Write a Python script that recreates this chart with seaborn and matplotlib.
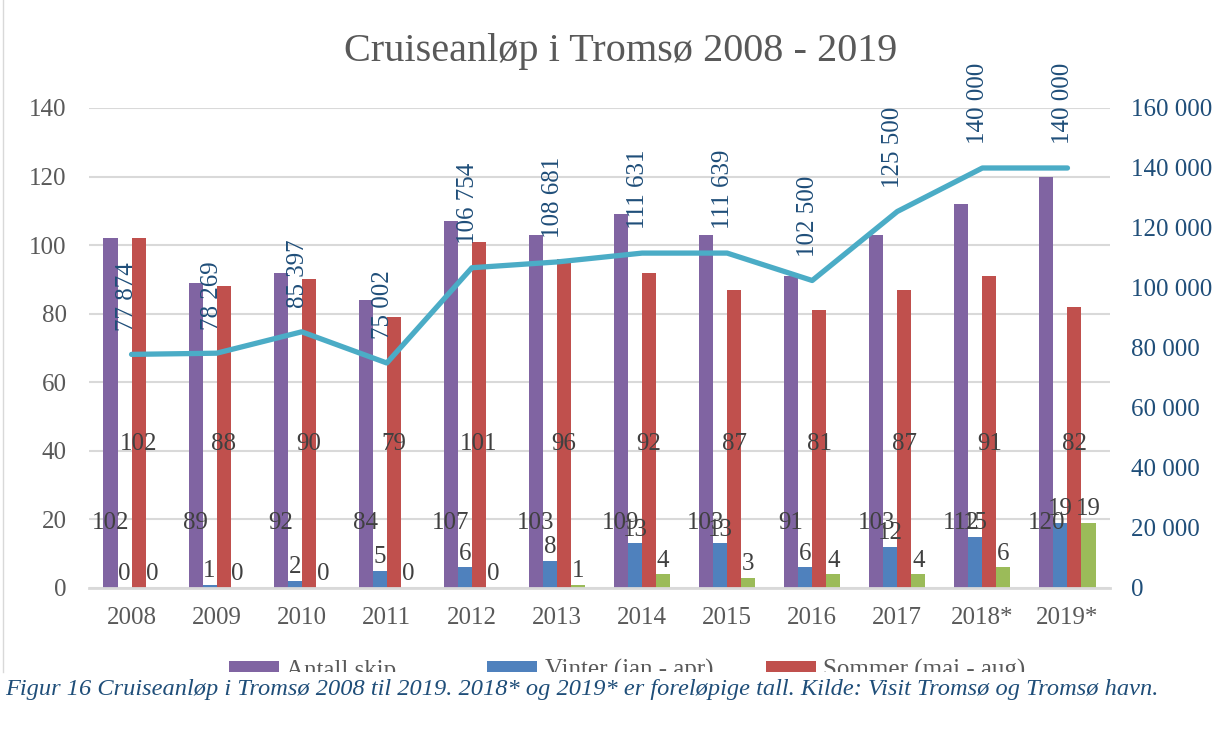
"""
Cruiseanløp i Tromsø 2008 - 2019: antall skip per sesong (stolper) og antall passasjerer (linje).
"""
import numpy as np
import pandas as pd
import seaborn as sns
import matplotlib.pyplot as plt
from matplotlib.patches import Patch, Rectangle
from matplotlib.lines import Line2D
from matplotlib.ticker import FuncFormatter, MultipleLocator

# data
years = ['2008', '2009', '2010', '2011', '2012', '2013', '2014', '2015', '2016', '2017', '2018*', '2019*']
antall_skip = [102, 89, 92, 84, 107, 103, 109, 103, 91, 103, 112, 120]
vinter = [0, 1, 2, 5, 6, 8, 13, 13, 6, 12, 15, 19]
sommer = [102, 88, 90, 79, 101, 96, 92, 87, 81, 87, 91, 82]
host = [0, 0, 0, 0, 0, 1, 4, 3, 4, 4, 6, 19]
passasjerer = [77874, 78269, 85397, 75002, 106754, 108681, 111631, 111639, 102500, 125500, 140000, 140000]

series_names = ['Antall skip', 'Vinter (jan - apr)', 'Sommer (mai - aug)', 'Høst (sep - des)']
line_name = 'Antall passasjerer'
colors = ['#8064A2', '#4F81BD', '#C0504D', '#9BBB59']
line_color = '#4BACC6'
grey_text = '#595959'
blue_text = '#1F4E79'
grid_color = '#D9D9D9'

df = pd.DataFrame({
    'år': years * 4,
    'antall': antall_skip + vinter + sommer + host,
    'serie': np.repeat(series_names, len(years)),
})

plt.rcParams['font.family'] = ['Liberation Serif', 'DejaVu Serif']

fig, ax = plt.subplots(figsize=(12.21, 7.40), dpi=100)
fig.subplots_adjust(left=89 / 1221, right=1110 / 1221, bottom=(740 - 588) / 740, top=(740 - 108) / 740)

sns.barplot(data=df, x='år', y='antall', hue='serie', hue_order=series_names,
            palette=colors, saturation=1, width=0.66, legend=False, ax=ax, zorder=2)

ax.set_ylim(0, 140)
ax.set_xlim(-0.5, len(years) - 0.5)
ax.yaxis.set_major_locator(MultipleLocator(20))
ax.grid(axis='y', color=grid_color, linewidth=1.5, zorder=0)
ax.set_axisbelow(True)
ax.set_xlabel('')
ax.set_ylabel('')
for side in ['top', 'right', 'left']:
    ax.spines[side].set_visible(False)
ax.spines['bottom'].set_color(grid_color)
ax.spines['bottom'].set_linewidth(2)
ax.tick_params(axis='both', length=0, labelsize=18, labelcolor=grey_text)
ax.tick_params(axis='x', pad=14)
ax.tick_params(axis='y', pad=16)

# data labels on the bars (Excel places the big ones low inside the bars)
label_kw = dict(ha='center', va='center', fontsize=18, color='#404040', zorder=4)
for i, cont in enumerate(ax.containers):
    for p, v in zip(cont.patches, cont.datavalues):
        xc = p.get_x() + p.get_width() / 2
        if i == 0:
            ax.text(xc, 19, f'{v:.0f}', **label_kw)
        elif i == 2:
            ax.text(xc, 42, f'{v:.0f}', **label_kw)
    if i in (1, 3):
        ax.bar_label(cont, fmt='%.0f', padding=2, fontsize=18, color='#404040', zorder=4)

# passenger line on secondary axis
ax2 = ax.twinx()
sns.lineplot(x=np.arange(len(years)), y=passasjerer, ax=ax2, color=line_color, linewidth=3.8,
             solid_capstyle='round', zorder=3)
ax2.set_ylim(0, 160000)
ax2.yaxis.set_major_locator(MultipleLocator(20000))
ax2.yaxis.set_major_formatter(FuncFormatter(lambda v, pos: f'{v:,.0f}'.replace(',', ' ')))
for side in ['top', 'right', 'left', 'bottom']:
    ax2.spines[side].set_visible(False)
ax2.tick_params(axis='y', length=0, labelsize=18, labelcolor=blue_text, pad=15)

for i, v in enumerate(passasjerer):
    ax2.annotate(f'{v:,}'.replace(',', ' '), (i, v), xytext=(-3, 17), textcoords='offset points',
                 rotation=90, ha='center', va='bottom', fontsize=18, color=blue_text)

fig.text(0.508, 1 - 52 / 740, 'Cruiseanløp i Tromsø 2008 - 2019', ha='center', va='center',
         fontsize=29, color=grey_text)

# legend (bottom row is hidden behind the figure caption, like in the report)
handles = [Patch(facecolor=c) for c in colors] + [Line2D([], [], color=line_color, linewidth=3.8)]
labels = series_names + [line_name]
order = [0, 3, 1, 4, 2]
fig.legend([handles[k] for k in order], [labels[k] for k in order], ncol=3, loc='upper left',
           bbox_to_anchor=(229 / 1221, 1 - 659 / 740), frameon=False, fontsize=18,
           labelcolor=grey_text, handlelength=2.0, handleheight=0.5, handletextpad=0.3,
           columnspacing=1.72, borderpad=0, borderaxespad=0)

fig.add_artist(Rectangle((0, 0), 1, (740 - 672) / 740, transform=fig.transFigure,
                         facecolor='white', edgecolor='none', zorder=6))
fig.add_artist(Line2D([3 / 1221, 3 / 1221], [(740 - 672) / 740, 1], transform=fig.transFigure,
                      color=grid_color, linewidth=1, zorder=6))
fig.text(5 / 1221, 1 - 689 / 740,
         'Figur 16 Cruiseanløp i Tromsø 2008 til 2019. 2018* og 2019* er foreløpige tall. '
         'Kilde: Visit Tromsø og Tromsø havn.',
         ha='left', va='center', fontsize=17.6, style='italic', color=blue_text, zorder=7)

plt.savefig('out.png', dpi=100)
plt.close()
